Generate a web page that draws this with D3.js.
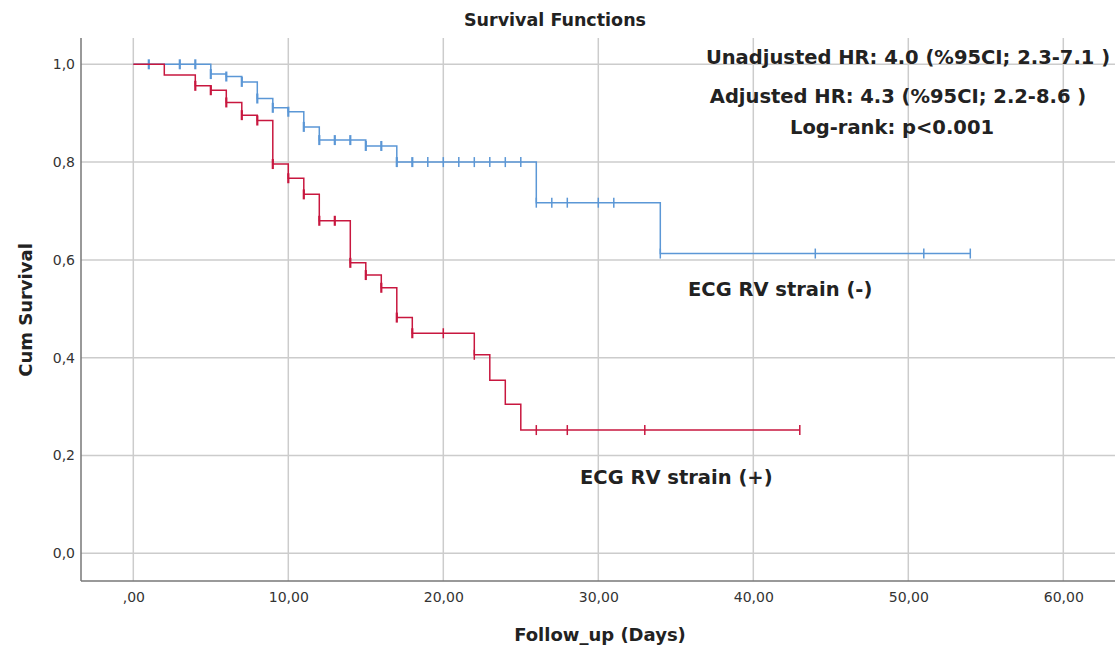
<!DOCTYPE html>
<html>
<head>
<meta charset="utf-8">
<script src="https://cdn.jsdelivr.net/npm/d3@7"></script>
<style>
    body { margin: 0; background: #fff; }
    text { font-family: "DejaVu Sans", sans-serif; }
</style>
</head>
<body>
<div id="chart"></div>
<script>
// Data
const negTimes = [0, 5, 6, 7, 8, 9, 10, 11, 12, 15, 17, 26, 34];
const negSurv = [1, 0.980, 0.975, 0.964, 0.930, 0.911, 0.903, 0.872, 0.845, 0.833, 0.800, 0.717, 0.613];
const negEnd = 54;
const negCensor = [1, 3, 4, 5, 6, 7, 8, 9, 10, 11, 12, 13, 14, 15, 16, 17, 18, 19, 20, 21, 22, 23, 24, 25, 26, 27, 28, 30, 31, 34, 44, 51, 54];

const posTimes = [0, 2, 4, 5, 6, 7, 8, 9, 10, 11, 12, 14, 15, 16, 17, 18, 22, 23, 24, 25];
const posSurv = [1, 0.978, 0.956, 0.947, 0.922, 0.896, 0.885, 0.796, 0.767, 0.734, 0.680, 0.594, 0.569, 0.543, 0.482, 0.450, 0.406, 0.354, 0.305, 0.252];
const posEnd = 43;
const posCensor = [4, 5, 6, 7, 8, 9, 10, 11, 12, 13, 14, 15, 16, 17, 18, 20, 22, 26, 28, 33, 43];

const xTicks = [0, 10, 20, 30, 40, 50, 60];
const yTicks = [0, 0.2, 0.4, 0.6, 0.8, 1.0];
const statLines = [
    "Unadjusted HR: 4.0 (%95CI; 2.3-7.1 )",
    "Adjusted HR: 4.3 (%95CI; 2.2-8.6 )",
    "Log-rank: p<0.001"
];

const groups = [
    { name: "ECG RV strain (-)", times: negTimes, surv: negSurv, end: negEnd, censor: negCensor, color: "#5b97d6" },
    { name: "ECG RV strain (+)", times: posTimes, surv: posSurv, end: posEnd, censor: posCensor, color: "#c8173f" }
];

const width = 1115;
const height = 648;
const plot = { left: 81, right: 1115, top: 38, bottom: 581 };

const svg = d3.select("#chart")
    .append("svg")
    .attr("width", width)
    .attr("height", height);

// Scales
const xScale = d3.scaleLinear()
    .domain([0, 60])
    .range([133.3, 1063.3]);

const yScale = d3.scaleLinear()
    .domain([0, 1])
    .range([553.3, 64.3]);

// Gridlines
svg.append("g")
    .selectAll("line")
    .data(xTicks)
    .join("line")
        .attr("x1", d => xScale(d))
        .attr("x2", d => xScale(d))
        .attr("y1", plot.top)
        .attr("y2", plot.bottom)
        .attr("stroke", "#cccccc")
        .attr("stroke-width", 1.5);

svg.append("g")
    .selectAll("line")
    .data(yTicks)
    .join("line")
        .attr("x1", plot.left)
        .attr("x2", plot.right)
        .attr("y1", d => yScale(d))
        .attr("y2", d => yScale(d))
        .attr("stroke", "#cccccc")
        .attr("stroke-width", 1.5);

// Axes
const fmtX = d => d === 0 ? ",00" : d3.format(".2f")(d).replace(".", ",");
const fmtY = d => d3.format(".1f")(d).replace(".", ",");

const xAxis = d3.axisBottom(xScale)
    .tickValues(xTicks)
    .tickSize(0)
    .tickPadding(11)
    .tickFormat(fmtX);

const xAxisGroup = svg.append("g")
    .attr("transform", `translate(0, ${plot.bottom})`)
    .call(xAxis);
xAxisGroup.select(".domain").remove();

const yAxis = d3.axisLeft(yScale)
    .tickValues(yTicks)
    .tickSize(0)
    .tickPadding(6)
    .tickFormat(fmtY);

const yAxisGroup = svg.append("g")
    .attr("transform", `translate(${plot.left}, 0)`)
    .call(yAxis);
yAxisGroup.select(".domain").remove();

svg.selectAll(".tick text")
    .attr("fill", "#333")
    .style("font-size", "14px")
    .style("font-family", "'DejaVu Sans', sans-serif");

svg.append("line")
    .attr("x1", plot.left).attr("x2", plot.left)
    .attr("y1", plot.top).attr("y2", plot.bottom)
    .attr("stroke", "#777").attr("stroke-width", 1.5);
svg.append("line")
    .attr("x1", plot.left).attr("x2", plot.right)
    .attr("y1", plot.bottom).attr("y2", plot.bottom)
    .attr("stroke", "#777").attr("stroke-width", 1.5);

// Survival curves
const line = d3.line()
    .x(d => xScale(d[0]))
    .y(d => yScale(d[1]))
    .curve(d3.curveStepAfter);

const survAt = (g, t) => g.surv[d3.bisectRight(g.times, t) - 1];

groups.forEach(g => {
    const pts = g.times.map((t, i) => [t, g.surv[i]]);
    pts.push([g.end, g.surv[g.surv.length - 1]]);

    svg.append("path")
        .datum(pts)
        .attr("d", line)
        .attr("fill", "none")
        .attr("stroke", g.color)
        .attr("stroke-width", 1.5);

    svg.append("g")
        .selectAll("line")
        .data(g.censor)
        .join("line")
            .attr("x1", d => xScale(d))
            .attr("x2", d => xScale(d))
            .attr("y1", d => yScale(survAt(g, d)) - 5)
            .attr("y2", d => yScale(survAt(g, d)) + 5)
            .attr("stroke", g.color)
            .attr("stroke-width", d => d <= 18 ? 2.2 : 1.5);
});

// Texts
svg.append("text")
    .attr("x", 555)
    .attr("y", 26)
    .attr("text-anchor", "middle")
    .attr("font-weight", "bold")
    .attr("font-size", 17.5)
    .attr("fill", "#222")
    .text("Survival Functions");

svg.append("text")
    .attr("x", 600)
    .attr("y", 641)
    .attr("text-anchor", "middle")
    .attr("font-weight", "bold")
    .attr("font-size", 18)
    .attr("fill", "#222")
    .text("Follow_up (Days)");

svg.append("text")
    .attr("transform", "translate(32, 310) rotate(-90)")
    .attr("text-anchor", "middle")
    .attr("font-weight", "bold")
    .attr("font-size", 18)
    .attr("fill", "#222")
    .text("Cum Survival");

const statX = [908, 898, 892];
const statY = [64, 103, 134];
svg.append("g")
    .selectAll("text")
    .data(statLines)
    .join("text")
        .attr("x", (d, i) => statX[i])
        .attr("y", (d, i) => statY[i])
        .attr("text-anchor", "middle")
        .attr("font-weight", "bold")
        .attr("font-size", 19.5)
        .attr("fill", "#222")
        .text(d => d);

svg.append("text")
    .attr("x", 688)
    .attr("y", 296)
    .attr("font-weight", "bold")
    .attr("font-size", 19.5)
    .attr("fill", "#222")
    .text(groups[0].name);

svg.append("text")
    .attr("x", 580)
    .attr("y", 484)
    .attr("font-weight", "bold")
    .attr("font-size", 19.5)
    .attr("fill", "#222")
    .text(groups[1].name);
</script>
</body>
</html>
